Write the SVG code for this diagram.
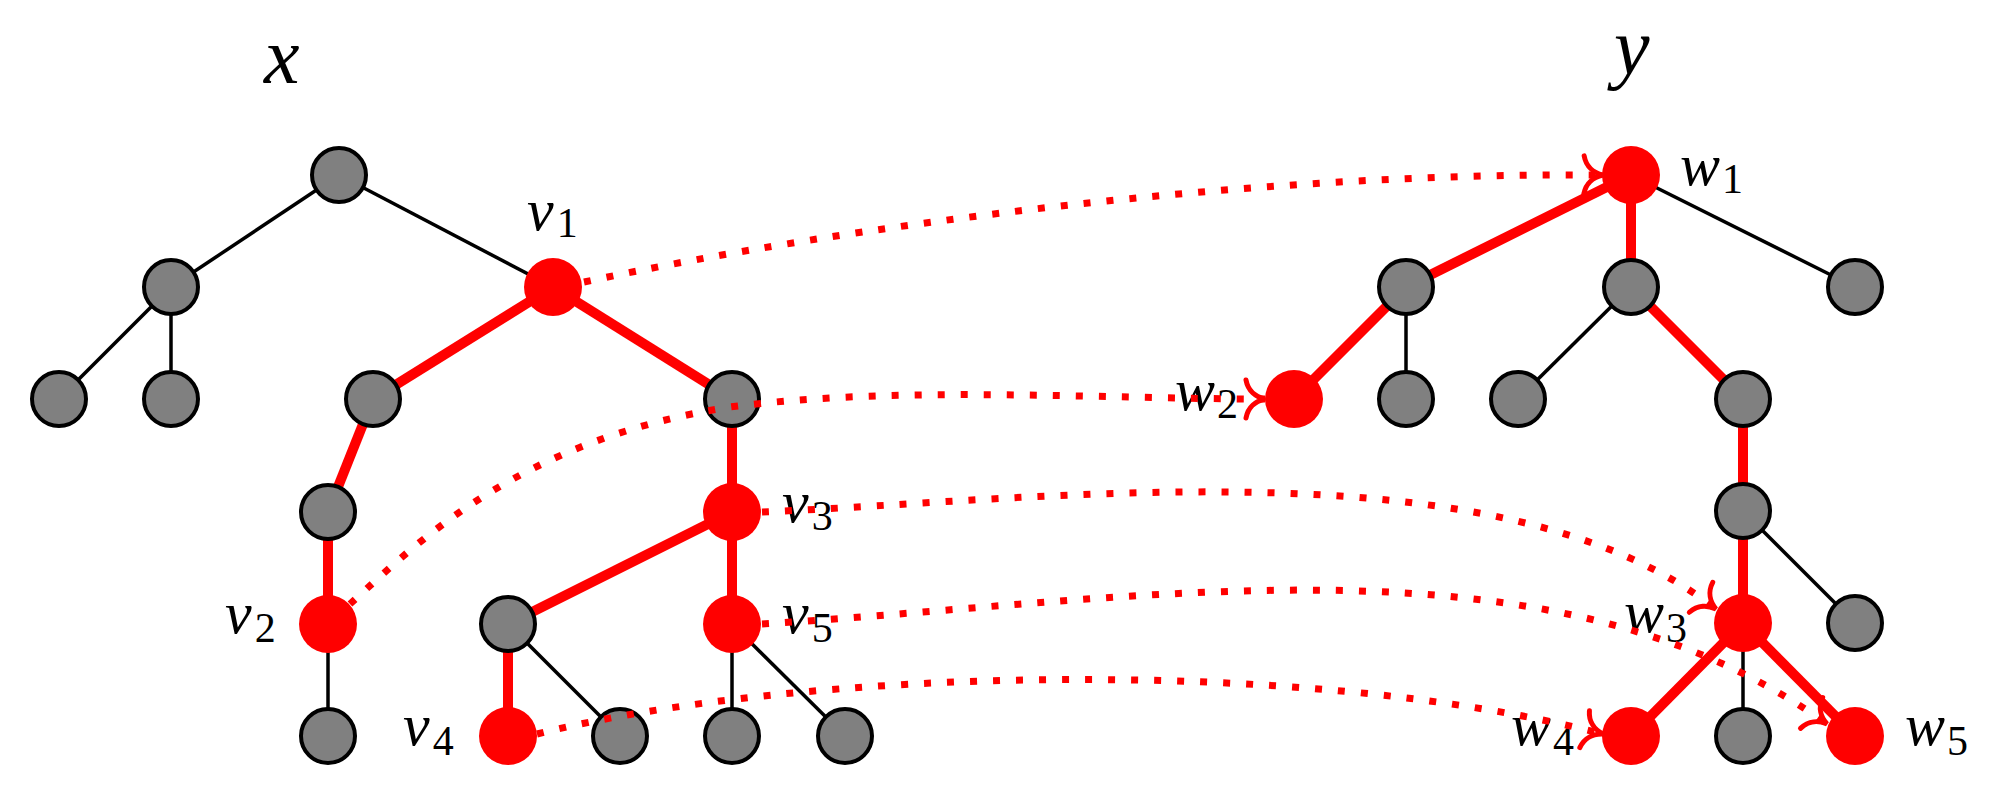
<svg xmlns="http://www.w3.org/2000/svg" width="2008" height="800" viewBox="0 0 2008 800">
<style>
.e{stroke:#000;stroke-width:3.5;fill:none}
.r{stroke:#f00;stroke-width:10;fill:none}
.g{fill:#808080;stroke:#000;stroke-width:4}
.n{fill:#f00}
.m{stroke:#f00;stroke-width:7;fill:none;stroke-dasharray:7 16;marker-end:url(#ah)}
.t{font-family:"Liberation Serif","DejaVu Serif",serif;font-style:italic;fill:#000}
.big{font-size:80px}
.lb{font-size:60px}
.s{font-size:42px;font-style:normal}
</style>
<defs>
<marker id="ah" markerUnits="userSpaceOnUse" viewBox="-25 -25 30 50" markerWidth="30" markerHeight="50" refX="0" refY="0" orient="auto" overflow="visible">
<path d="M-19,-19 C-17,-8 -9,-2 0,0 C-9,2 -17,8 -19,19" fill="none" stroke="#f00" stroke-width="5" stroke-linecap="round"/>
</marker>
</defs>
<rect width="2008" height="800" fill="#fff"/>
<g id="edges">
<line class="e" x1="339" y1="175" x2="171" y2="287"/>
<line class="e" x1="339" y1="175" x2="553" y2="287"/>
<line class="e" x1="171" y1="287" x2="59" y2="399"/>
<line class="e" x1="171" y1="287" x2="171" y2="399"/>
<line class="r" x1="553" y1="287" x2="373" y2="399"/>
<line class="r" x1="553" y1="287" x2="732" y2="399"/>
<line class="r" x1="373" y1="399" x2="328" y2="512"/>
<line class="r" x1="328" y1="512" x2="328" y2="624"/>
<line class="e" x1="328" y1="624" x2="328" y2="736"/>
<line class="r" x1="732" y1="399" x2="732" y2="512"/>
<line class="r" x1="732" y1="512" x2="508" y2="624"/>
<line class="r" x1="732" y1="512" x2="732" y2="624"/>
<line class="r" x1="508" y1="624" x2="508" y2="736"/>
<line class="e" x1="508" y1="624" x2="620" y2="736"/>
<line class="e" x1="732" y1="624" x2="732" y2="736"/>
<line class="e" x1="732" y1="624" x2="845" y2="736"/>
<line class="r" x1="1631" y1="175" x2="1406" y2="287"/>
<line class="r" x1="1631" y1="175" x2="1631" y2="287"/>
<line class="e" x1="1631" y1="175" x2="1855" y2="287"/>
<line class="r" x1="1406" y1="287" x2="1294" y2="399"/>
<line class="e" x1="1406" y1="287" x2="1406" y2="399"/>
<line class="e" x1="1631" y1="287" x2="1518" y2="399"/>
<line class="r" x1="1631" y1="287" x2="1743" y2="399"/>
<line class="r" x1="1743" y1="399" x2="1743" y2="511"/>
<line class="r" x1="1743" y1="511" x2="1743" y2="623"/>
<line class="e" x1="1743" y1="511" x2="1855" y2="623"/>
<line class="r" x1="1743" y1="623" x2="1631" y2="736"/>
<line class="e" x1="1743" y1="623" x2="1743" y2="736"/>
<line class="r" x1="1743" y1="623" x2="1855" y2="736"/>
</g>
<g id="x-tree">
<g id="xa"><circle class="g" cx="339" cy="175" r="27"/></g>
<g id="xb"><circle class="g" cx="171" cy="287" r="27"/></g>
<g id="v1"><circle class="n" cx="553" cy="287" r="29"/></g>
<g id="xc"><circle class="g" cx="59" cy="399" r="27"/></g>
<g id="xd"><circle class="g" cx="171" cy="399" r="27"/></g>
<g id="xe"><circle class="g" cx="373" cy="399" r="27"/></g>
<g id="xf"><circle class="g" cx="732" cy="399" r="27"/></g>
<g id="xg"><circle class="g" cx="328" cy="512" r="27"/></g>
<g id="v3"><circle class="n" cx="732" cy="512" r="29"/></g>
<g id="v2"><circle class="n" cx="328" cy="624" r="29"/></g>
<g id="xh"><circle class="g" cx="508" cy="624" r="27"/></g>
<g id="v5"><circle class="n" cx="732" cy="624" r="29"/></g>
<g id="xi"><circle class="g" cx="328" cy="736" r="27"/></g>
<g id="v4"><circle class="n" cx="508" cy="736" r="29"/></g>
<g id="xj"><circle class="g" cx="620" cy="736" r="27"/></g>
<g id="xk"><circle class="g" cx="732" cy="736" r="27"/></g>
<g id="xl"><circle class="g" cx="845" cy="736" r="27"/></g>
</g>
<g id="y-tree">
<g id="w1"><circle class="n" cx="1631" cy="175" r="29"/></g>
<g id="ya"><circle class="g" cx="1406" cy="287" r="27"/></g>
<g id="yb"><circle class="g" cx="1631" cy="287" r="27"/></g>
<g id="yc"><circle class="g" cx="1855" cy="287" r="27"/></g>
<g id="w2"><circle class="n" cx="1294" cy="399" r="29"/></g>
<g id="yd"><circle class="g" cx="1406" cy="399" r="27"/></g>
<g id="ye"><circle class="g" cx="1518" cy="399" r="27"/></g>
<g id="yf"><circle class="g" cx="1743" cy="399" r="27"/></g>
<g id="yg"><circle class="g" cx="1743" cy="511" r="27"/></g>
<g id="w3"><circle class="n" cx="1743" cy="623" r="29"/></g>
<g id="yh"><circle class="g" cx="1855" cy="623" r="27"/></g>
<g id="w4"><circle class="n" cx="1631" cy="736" r="29"/></g>
<g id="yi"><circle class="g" cx="1743" cy="736" r="27"/></g>
<g id="w5"><circle class="n" cx="1855" cy="736" r="29"/></g>
</g>
<g id="labels">
<text class="t big" x="264" y="83">x</text>
<text class="t big" x="1614" y="74">y</text>
<text class="t lb" x="527" y="230">v<tspan class="s" dx="3" dy="7">1</tspan></text>
<text class="t lb" x="225" y="633">v<tspan class="s" dx="3" dy="9">2</tspan></text>
<text class="t lb" x="782" y="522">v<tspan class="s" dx="3" dy="8">3</tspan></text>
<text class="t lb" x="403" y="745">v<tspan class="s" dx="3" dy="10">4</tspan></text>
<text class="t lb" x="782" y="633">v<tspan class="s" dx="3" dy="9">5</tspan></text>
<text class="t lb" x="1680" y="185">w<tspan class="s" dx="2" dy="8">1</tspan></text>
<text class="t lb" x="1175" y="410">w<tspan class="s" dx="2" dy="8">2</tspan></text>
<text class="t lb" x="1624" y="632">w<tspan class="s" dx="2" dy="10">3</tspan></text>
<text class="t lb" x="1511" y="745">w<tspan class="s" dx="2" dy="10">4</tspan></text>
<text class="t lb" x="1905" y="745">w<tspan class="s" dx="2" dy="10">5</tspan></text>
</g>
<g id="mappings">
<path class="m" d="M584,282 C850,225 1250,172 1603,175"/>
<path class="m" d="M350,604 C420,540 520,440 730,407 C900,385 1100,399 1265,399"/>
<path class="m" d="M762,512 C1050,500 1500,440 1716,609"/>
<path class="m" d="M762,624 C1150,600 1550,525 1827,724"/>
<path class="m" d="M537,734 C800,668 1300,655 1603,734"/>
</g>
</svg>
